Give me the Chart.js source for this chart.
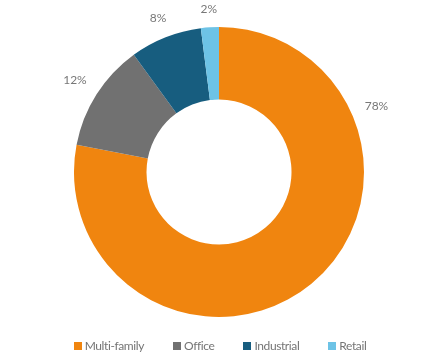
<!DOCTYPE html>
<html>
<head>
<meta charset="utf-8">
<script src="https://cdn.jsdelivr.net/npm/chart.js@4.4.1/dist/chart.umd.min.js"></script>
<style>
  html, body { margin: 0; padding: 0; background: #fff; }
  #wrap { position: relative; width: 432px; height: 360px; }
  #legend {
    position: absolute; left: 4px; top: 338px; width: 432px;
    display: flex; justify-content: center; gap: 29px;
    font: 12px Lato, "Open Sans", sans-serif; letter-spacing: -0.4px; color: #757575;
  }
  #legend span.item { display: flex; align-items: center; }
  #legend span.box { width: 8px; height: 8px; margin-right: 3px; display: inline-block; }
</style>
</head>
<body>
<div id="wrap">
  <canvas id="chart" width="432" height="360"></canvas>
  <div id="legend"></div>
</div>
<script>
const categories = ['Multi-family', 'Office', 'Industrial', 'Retail'];
const shares = [78, 12, 8, 2];
const sliceColors = ['#f0850f', '#717171', '#175d7f', '#6dc3e6'];

// label sitting off the mid-angle (Excel nudges the big slice)
const labelAngle = { 0: -22.8 };

const outsideLabels = {
  id: 'outsideLabels',
  afterDatasetsDraw(chart) {
    const ctx = chart.ctx;
    const meta = chart.getDatasetMeta(0);
    ctx.save();
    ctx.font = '12px Lato, "Open Sans", sans-serif';
    ctx.fillStyle = '#777777';
    ctx.textAlign = 'center';
    ctx.textBaseline = 'middle';
    meta.data.forEach(function(arc, i) {
      let a = (arc.startAngle + arc.endAngle) / 2;
      if (labelAngle[i] !== undefined) a = labelAngle[i] * Math.PI / 180;
      const txt = shares[i] + '%';
      const w = ctx.measureText(txt).width / 2;
      const r = arc.outerRadius + 13 + w * Math.abs(Math.cos(a)) + 5 * Math.abs(Math.sin(a));
      ctx.fillText(txt, arc.x + r * Math.cos(a), arc.y + r * Math.sin(a));
    });
    ctx.restore();
  }
};

new Chart(document.getElementById('chart'), {
  type: 'doughnut',
  data: {
    labels: categories,
    datasets: [{
      data: shares,
      backgroundColor: sliceColors,
      borderWidth: 0
    }]
  },
  options: {
    responsive: false,
    animation: false,
    cutout: '50%',
    layout: { padding: { left: 74, right: 68, top: 27, bottom: 43 } },
    plugins: {
      legend: { display: false },
      tooltip: { enabled: false }
    }
  },
  plugins: [outsideLabels]
});

const legend = document.getElementById('legend');
categories.forEach(function(c, i) {
  const item = document.createElement('span');
  item.className = 'item';
  const box = document.createElement('span');
  box.className = 'box';
  box.style.background = sliceColors[i];
  item.appendChild(box);
  item.appendChild(document.createTextNode(c));
  legend.appendChild(item);
});
</script>
</body>
</html>
